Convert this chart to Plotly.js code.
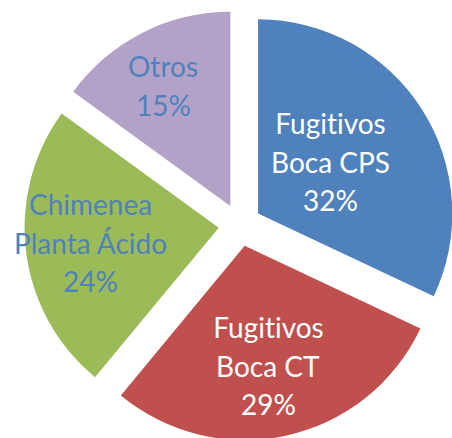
<!DOCTYPE html>
<html><head><meta charset="utf-8">
<script src="https://cdn.plot.ly/plotly-3.0.1.min.js"></script>
<style>html,body{margin:0;padding:0;overflow:hidden;background:#fff}#chart{width:460px;height:460px}#chart text{font-variant-ligatures:none;font-feature-settings:"liga" 0}</style>
</head><body><div id="chart"></div>
<script>
const categories = ["Fugitivos Boca CPS", "Fugitivos Boca CT", "Chimenea Planta Ácido", "Otros"];
const labelLines = [["Fugitivos", "Boca CPS"], ["Fugitivos", "Boca CT"], ["Chimenea", "Planta Ácido"], ["Otros"]];
const values = [32, 29, 24, 15];
const colors = ["#4F81BD", "#C0504D", "#9BBB59", "#B3A2C7"];
const textColors = ["#FFFFFF", "#FFFFFF", "#4F81BD", "#4F81BD"];
// first-line positions of labels (pixels), line step
const labelPos = [[330, 123], [268, 327], [90, 204], [163, 66]];
const lineStep = 38.7;

const W = 460, H = 460;
const total = values.reduce((a, b) => a + b, 0);
const annotations = [];
categories.forEach((c, i) => {
  const lines = labelLines[i].concat([Math.round(values[i] / total * 100) + "%"]);
  lines.forEach((t, j) => {
    annotations.push({
      text: t, xref: "paper", yref: "paper",
      x: labelPos[i][0] / W, y: 1 - (labelPos[i][1] + j * lineStep) / H,
      xanchor: "center", yanchor: "middle", showarrow: false,
      font: {family: "Lato, sans-serif", size: 28, color: textColors[i]}
    });
  });
});

const trace = {
  type: "pie", labels: categories, values: values, sort: false,
  direction: "clockwise", rotation: 0, pull: [0.11, 0.11, 0.11, 0.11],
  marker: {colors: colors, line: {width: 0}},
  textinfo: "none", hoverinfo: "skip",
  domain: {x: [(240 - 215.6) / W, (240 + 215.6) / W], y: [1 - 440.6 / H, 1 - 9.4 / H]}
};
Plotly.newPlot("chart", [trace], {
  width: W, height: H, margin: {l: 0, r: 0, t: 0, b: 0},
  showlegend: false, paper_bgcolor: "#fff", annotations: annotations
}, {staticPlot: true});
</script></body></html>
